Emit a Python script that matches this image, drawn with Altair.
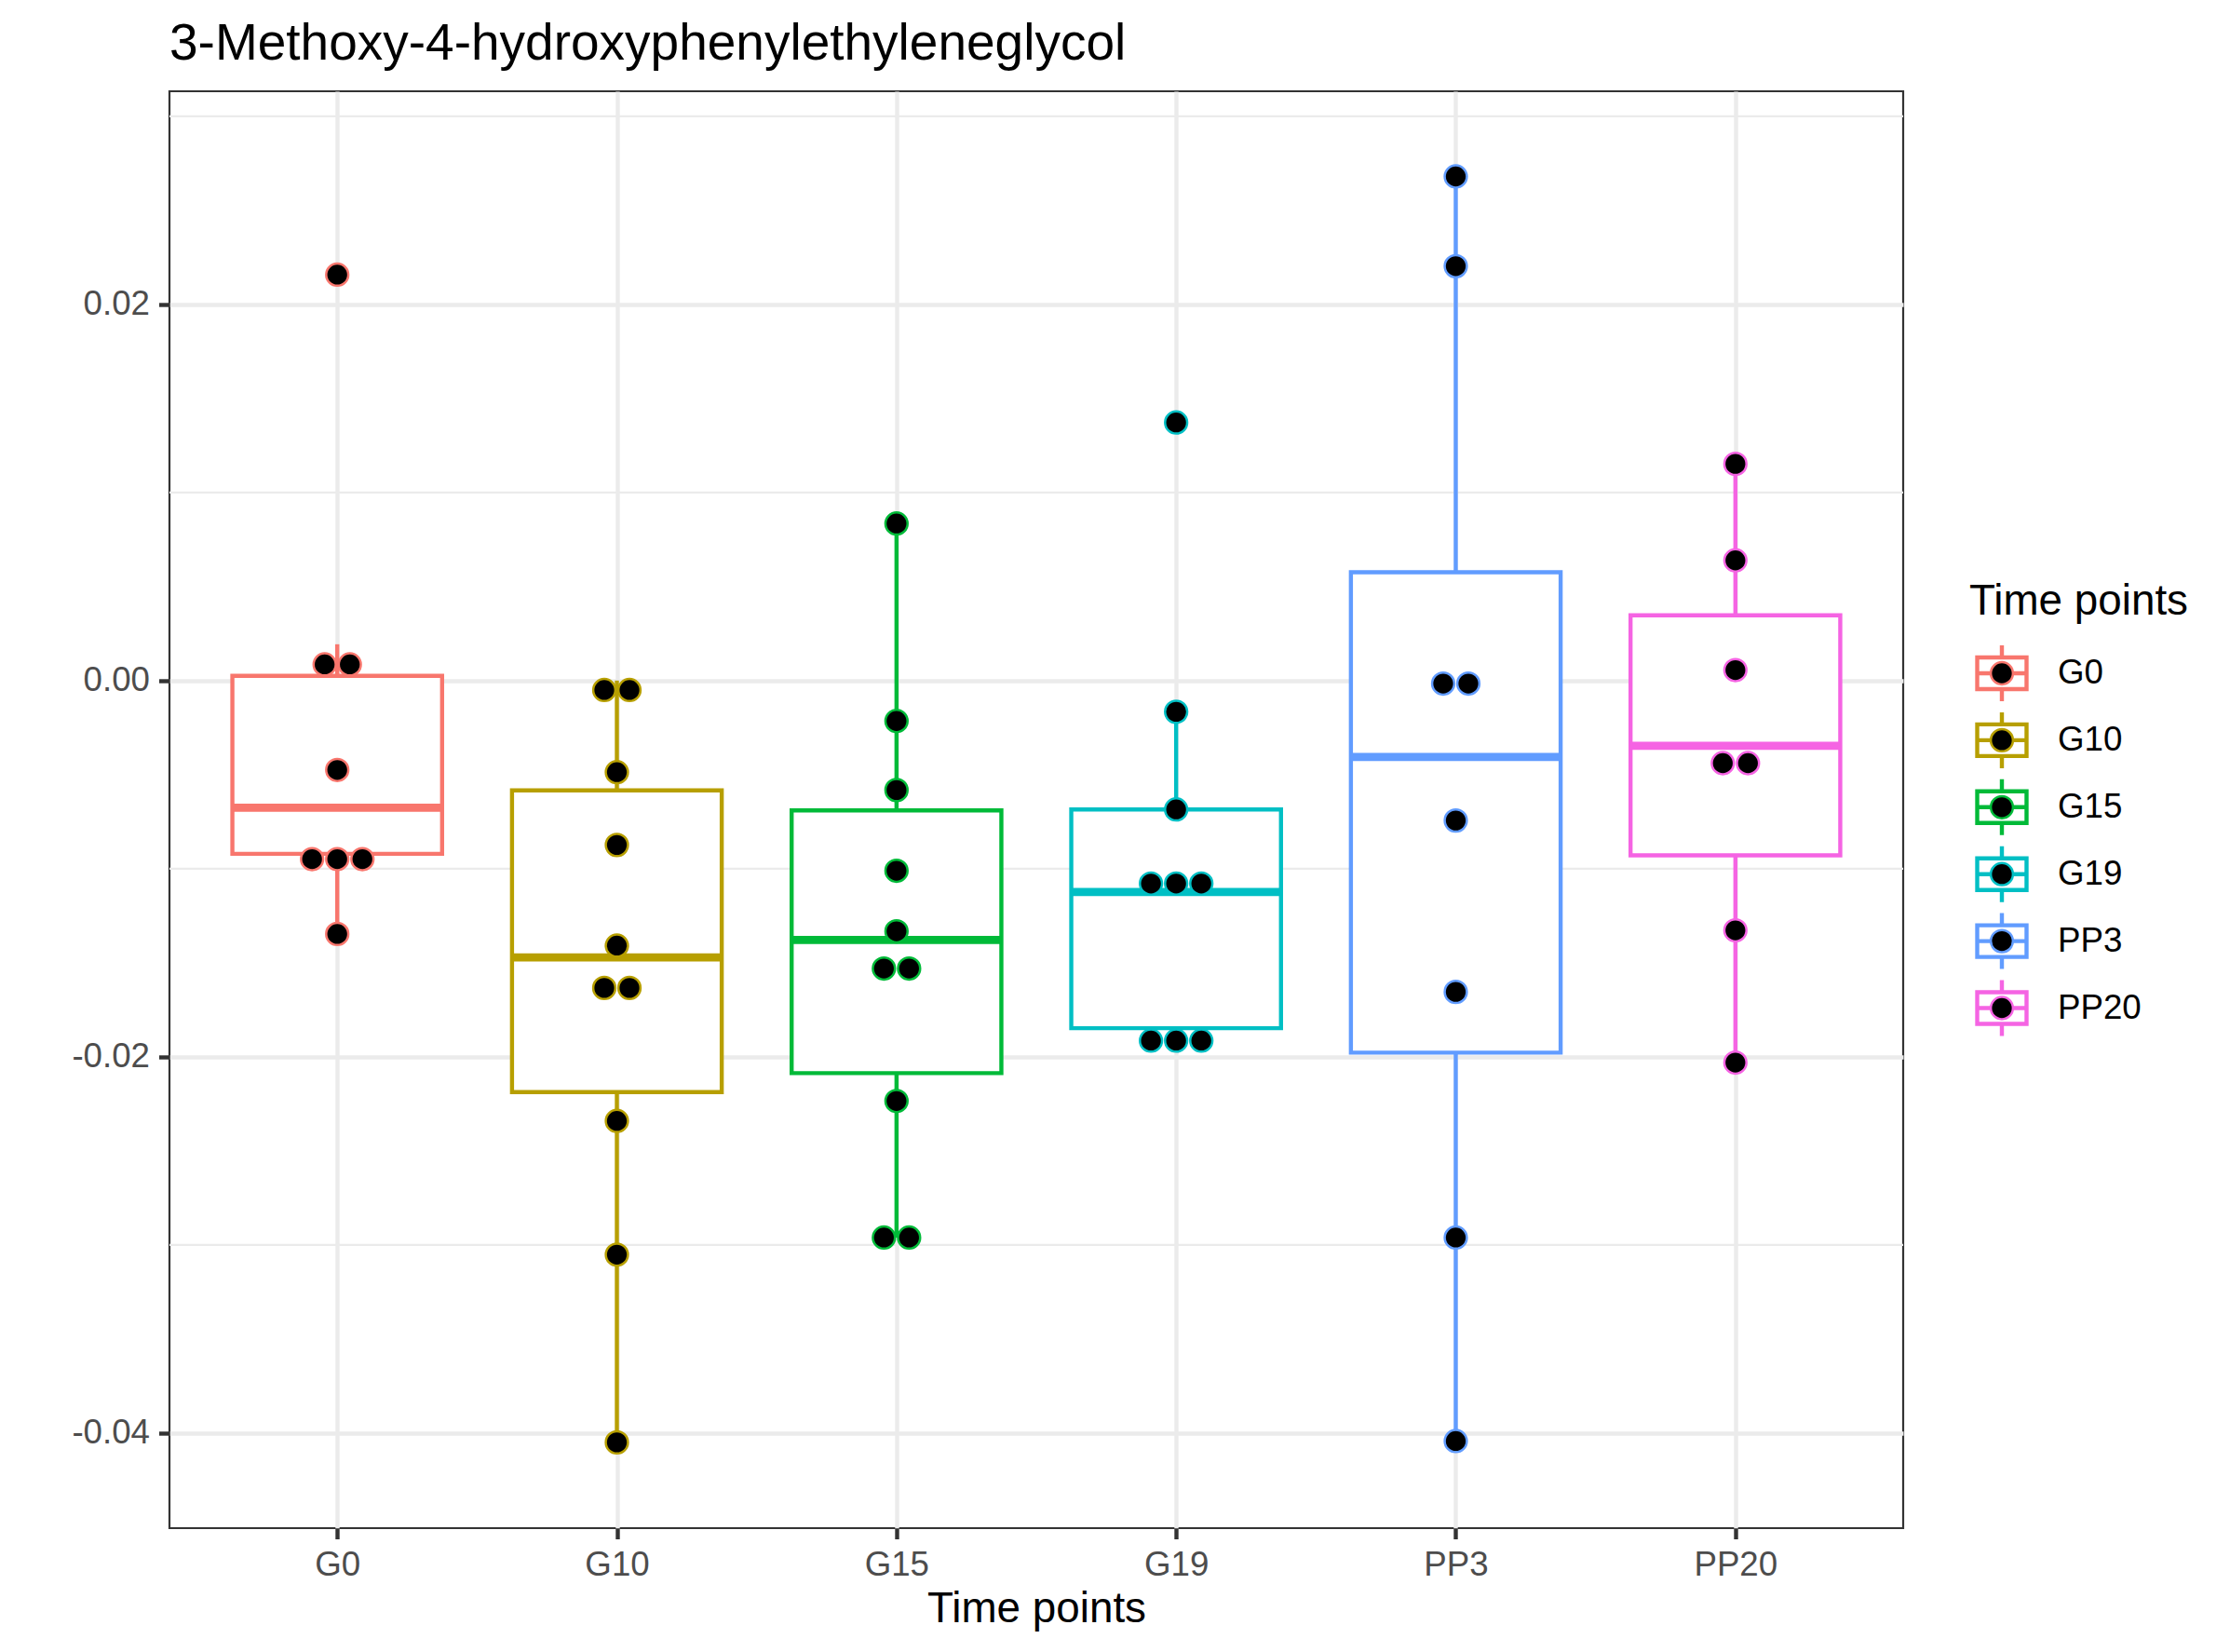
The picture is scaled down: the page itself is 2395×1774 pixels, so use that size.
import altair as alt
import pandas as pd

# ---------------- data ----------------
categories = ["G0", "G10", "G15", "G19", "PP3", "PP20"]
colors = ["#F8766D", "#B79F00", "#00BA38", "#00BFC4", "#619CFF", "#F564E3"]

# dot-plot values (repeated values are the stacked dots)
g0_vals = [0.02158, 0.00086, 0.00086, -0.00475, -0.00949, -0.00949, -0.00949, -0.01347]
g10_vals = [-0.00050, -0.00050, -0.00487, -0.00874, -0.01409, -0.01634, -0.01634,
            -0.02341, -0.03052, -0.04050]
g15_vals = [0.00835, -0.00215, -0.00582, -0.01011, -0.01333, -0.01531, -0.01531,
            -0.02235, -0.02961, -0.02961]
g19_vals = [0.01372, -0.00166, -0.00685, -0.01079, -0.01079, -0.01079,
            -0.01914, -0.01914, -0.01914]
pp3_vals = [0.02680, 0.02203, -0.00016, -0.00016, -0.00744, -0.01655, -0.02961, -0.04043]
pp20_vals = [0.01152, 0.00639, 0.00056, -0.00439, -0.00439, -0.01328, -0.02031]
group_vals = [g0_vals, g10_vals, g15_vals, g19_vals, pp3_vals, pp20_vals]

# box-plot statistics per category
whisker_low = [-0.01347, -0.04050, -0.02961, -0.01914, -0.04043, -0.02031]
q1 = [-0.00921, -0.02188, -0.02087, -0.01848, -0.01978, -0.00929]
median = [-0.00676, -0.01472, -0.01379, -0.01124, -0.00406, -0.00347]
q3 = [0.00025, -0.00584, -0.00690, -0.00685, 0.00576, 0.00347]
whisker_high = [0.00193, 0.00000, 0.00835, -0.00166, 0.02680, 0.01152]

y_major = [-0.04, -0.02, 0.0, 0.02]
y_minor = [-0.03, -0.01, 0.01, 0.03]
y_domain = [-0.04506, 0.03133]

title_text = "3-Methoxy-4-hydroxyphenylethyleneglycol"
axis_title = "Time points"
legend_title = "Time points"

# ---------------- layout / style constants ----------------
W, H = 1862, 1543
FONT = "Liberation Sans"
BOX_HALF = 0.375
DOT_STEP = 0.09
LINE = 4.4

# ---------------- tables ----------------
rows = []
for i, (cat, vals) in enumerate(zip(categories, group_vals)):
    counts = {}
    for v in vals:
        counts[v] = counts.get(v, 0) + 1
    seen = {}
    for v in vals:
        n = counts[v]
        j = seen.get(v, 0)
        seen[v] = j + 1
        rows.append({"cat": cat, "idx": i + 1, "value": v, "off": (j - (n - 1) / 2) * DOT_STEP})
dots = pd.DataFrame(rows)

boxes = pd.DataFrame({
    "cat": categories,
    "idx": list(range(1, len(categories) + 1)),
    "lo": whisker_low, "q1": q1, "med": median, "q3": q3, "hi": whisker_high,
})
minor = pd.DataFrame({"v": y_minor})
legend_df = pd.DataFrame({"cat": categories})
legend_title_df = pd.DataFrame({"t": [legend_title]})

# ---------------- scales & axes ----------------
x_scale = alt.Scale(domain=[0.4, len(categories) + 0.6], nice=False, zero=False)
y_scale = alt.Scale(domain=y_domain, nice=False, zero=False)
col_scale = alt.Scale(domain=categories, range=colors)

label_arr = "[" + ",".join("'%s'" % c for c in categories) + "]"
x_axis = alt.Axis(
    values=list(range(1, len(categories) + 1)),
    labelExpr=label_arr + "[datum.value - 1]",
    title=axis_title, titleFont=FONT, titleFontSize=45.8, titleColor="#000000",
    titleFontWeight="normal", titleBaseline="alphabetic", titleY=100,
    labelFont=FONT, labelFontSize=36.7, labelColor="#4D4D4D", labelPadding=10,
    labelOverlap=False, labelFlush=False,
    tickSize=11.5, tickWidth=LINE, tickColor="#333333",
    domain=False, grid=True, gridColor="#EBEBEB", gridWidth=LINE,
)
y_axis = alt.Axis(
    values=y_major,
    labelExpr="replace(format(datum.value, '.2f'), '\u2212', '-')",
    title="",
    labelFont=FONT, labelFontSize=36.7, labelColor="#4D4D4D", labelPadding=10,
    labelOverlap=False, labelFlush=False,
    tickSize=11.5, tickWidth=LINE, tickColor="#333333",
    domain=False, grid=True, gridColor="#EBEBEB", gridWidth=LINE,
)


def X(field):
    return alt.X(field, type="quantitative", scale=x_scale, axis=x_axis, title=axis_title)


def Y(field):
    return alt.Y(field, type="quantitative", scale=y_scale, axis=y_axis, title="")


box_base = alt.Chart(boxes).transform_calculate(
    x0="datum.idx - %f" % BOX_HALF, x1="datum.idx + %f" % BOX_HALF
)

minor_grid = alt.Chart(minor).mark_rule(color="#EBEBEB", strokeWidth=LINE / 2).encode(
    y=Y("v")
)
whisk_lo = box_base.mark_rule(strokeWidth=LINE).encode(
    x=X("idx"), y=Y("lo"), y2="q1",
    color=alt.Color("cat:N", scale=col_scale, legend=None),
)
whisk_hi = box_base.mark_rule(strokeWidth=LINE).encode(
    x=X("idx"), y=Y("q3"), y2="hi",
    color=alt.Color("cat:N", scale=col_scale, legend=None),
)
box = box_base.mark_rect(fill="white", strokeWidth=LINE).encode(
    x=X("x0"), x2="x1", y=Y("q1"), y2="q3",
    stroke=alt.Stroke("cat:N", scale=col_scale, legend=None),
)
med = box_base.mark_rule(strokeWidth=LINE * 2).encode(
    x=X("x0"), x2="x1", y=Y("med"),
    color=alt.Color("cat:N", scale=col_scale, legend=None),
)
pts = alt.Chart(dots).transform_calculate(xpos="datum.idx + datum.off").mark_circle(
    fill="black", opacity=1, size=565, strokeWidth=2.5
).encode(
    x=X("xpos"), y=Y("value"),
    stroke=alt.Stroke("cat:N", scale=col_scale, legend=None),
)

main = alt.layer(minor_grid, whisk_lo, whisk_hi, box, med, pts)

# ---------------- hand-built legend (box glyph + dot) ----------------
leg_y = alt.Y("cat:N", sort=categories,
              scale=alt.Scale(type="point", domain=categories, range=[625, 984.5], padding=0),
              axis=None)
KEY_PATH = ("M-0.883,-0.567H0.883V0.567H-0.883Z "
            "M0,-1V-0.567 M0,0.567V1 M-0.883,0H0.883")
leg_box = alt.Chart(legend_df).mark_point(
    shape=KEY_PATH, size=3600, filled=False, strokeWidth=LINE, opacity=1
).encode(
    x=alt.value(1968), y=leg_y,
    stroke=alt.Stroke("cat:N", scale=col_scale, legend=None),
)
leg_dot = alt.Chart(legend_df).mark_circle(
    fill="black", opacity=1, size=565, strokeWidth=2.5
).encode(
    x=alt.value(1968), y=leg_y,
    stroke=alt.Stroke("cat:N", scale=col_scale, legend=None),
)
leg_text = alt.Chart(legend_df).mark_text(
    align="left", baseline="middle", font=FONT, fontSize=36.7, color="#000000"
).encode(x=alt.value(2028), y=leg_y, text="cat:N")
leg_title = alt.Chart(legend_title_df).mark_text(
    align="left", baseline="alphabetic", font=FONT, fontSize=45.8, color="#000000"
).encode(x=alt.value(1933), y=alt.value(561.5), text="t:N")

legend = alt.layer(leg_box, leg_dot, leg_text, leg_title)

chart = alt.layer(main, legend).resolve_scale(y="independent").properties(
    width=W, height=H,
    autosize=alt.AutoSizeParams(type="none"),
    padding={"left": 174, "top": 90, "right": 343, "bottom": 125},
    title=alt.TitleParams(
        title_text, anchor="start", frame="group", font=FONT, fontSize=55,
        fontWeight="normal", color="#000000", baseline="alphabetic", offset=34, dy=55,
    ),
).configure(
    background="white",
    view=alt.ViewConfig(stroke="#333333", strokeWidth=2.2),
)

chart.save("out.html", embed_options={"renderer": "svg", "actions": False})
